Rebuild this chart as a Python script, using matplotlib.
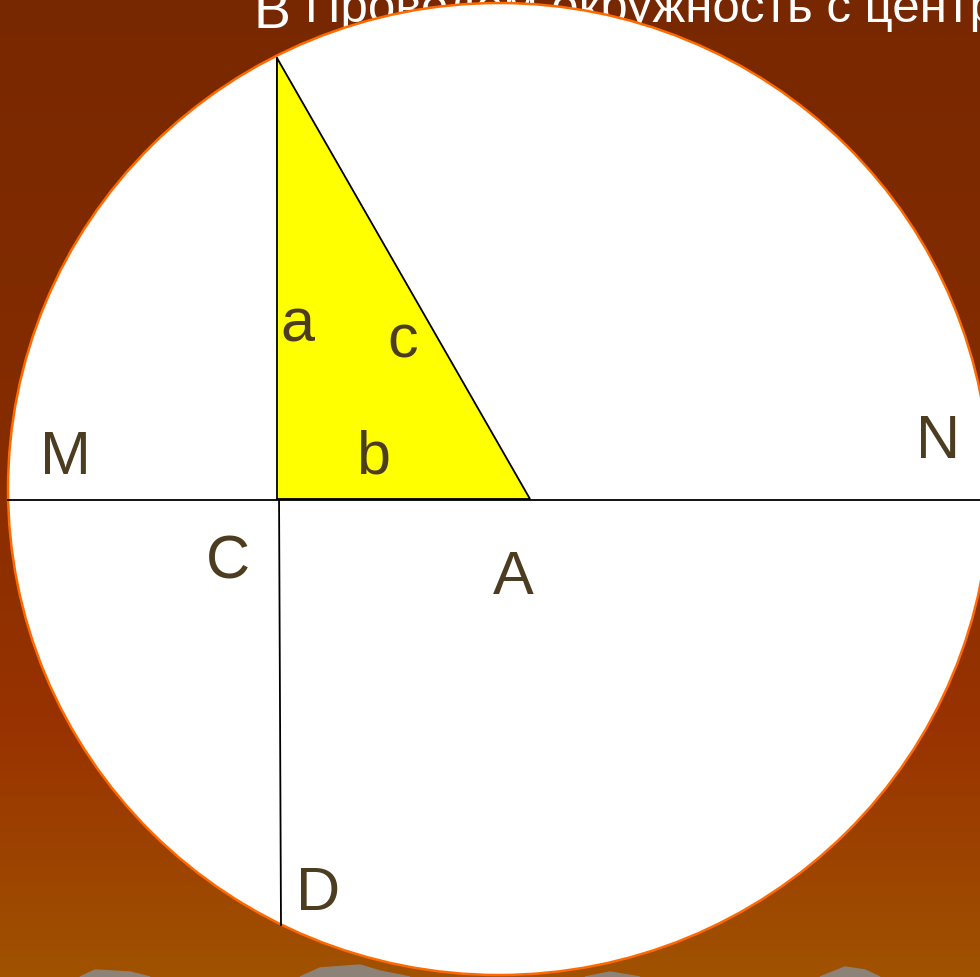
import matplotlib.pyplot as plt
import numpy as np
from matplotlib.patches import Ellipse, Polygon
from matplotlib.colors import LinearSegmentedColormap

# geometry in picture pixels (y grows downward)
circle_center = (499, 489)
circle_width = 982
circle_height = 972
B = (277, 58)
C = (277, 499)
A = (530, 499)
D = (281, 925)
M_end = (8, 500)
N_end = (980, 500)

label_names = ['a', 'c', 'b', 'M', 'N', 'C', 'A', 'D']
label_x = [297, 403, 373, 65, 938, 228, 513, 318]
label_y = [326, 342, 458, 459, 442, 563, 579, 894]

title_text = 'Проведём окружность с центром в точке С'

W, H = 980, 977
fig = plt.figure(figsize=(W / 100, H / 100), dpi=100)
ax = fig.add_axes([0, 0, 1, 1])
ax.set_xlim(0, W)
ax.set_ylim(H, 0)
ax.axis('off')

# background gradient
cmap = LinearSegmentedColormap.from_list(
    'bg', [(0.0, '#782800'), (0.45, '#862c00'), (0.75, '#993300'), (1.0, '#a05200')])
grad = np.linspace(0, 1, 256).reshape(-1, 1)
ax.imshow(grad, cmap=cmap, extent=[0, W, H, 0], aspect='auto', zorder=0)

# rocks at the bottom
rock_color = '#8c8278'
for pts in [[(80, 977), (95, 970), (130, 972), (150, 977)],
            [(300, 977), (320, 968), (360, 965), (380, 971), (410, 977)],
            [(585, 977), (610, 972), (640, 977)],
            [(820, 977), (845, 967), (865, 970), (880, 977)]]:
    ax.add_patch(Polygon(pts, closed=True, color=rock_color, zorder=1))

ax.text(272, 28, 'B', color='white', fontsize=40, family='Liberation Sans',
        ha='center', va='baseline', zorder=2)
ax.text(305, 22, title_text, color='white', fontsize=35.5, family='Liberation Sans',
        ha='left', va='baseline', zorder=2, clip_on=True)

ax.add_patch(Ellipse(circle_center, circle_width, circle_height, facecolor='white',
                     edgecolor='#ff6a00', linewidth=1.8, zorder=3))

ax.plot([M_end[0], N_end[0]], [M_end[1], N_end[1]], color='black', lw=1.3, zorder=4)
ax.plot([B[0], D[0]], [B[1], D[1]], color='black', lw=1.3, zorder=4)

ax.add_patch(Polygon([B, C, A], closed=True, facecolor='#ffff00',
                     edgecolor='black', linewidth=1.3, zorder=5))

for name, x, y in zip(label_names, label_x, label_y):
    ax.text(x, y, name, color='#4d3d20', fontsize=44, family='Liberation Sans',
            ha='center', va='center', zorder=6)

fig.savefig('out.png', dpi=100)
